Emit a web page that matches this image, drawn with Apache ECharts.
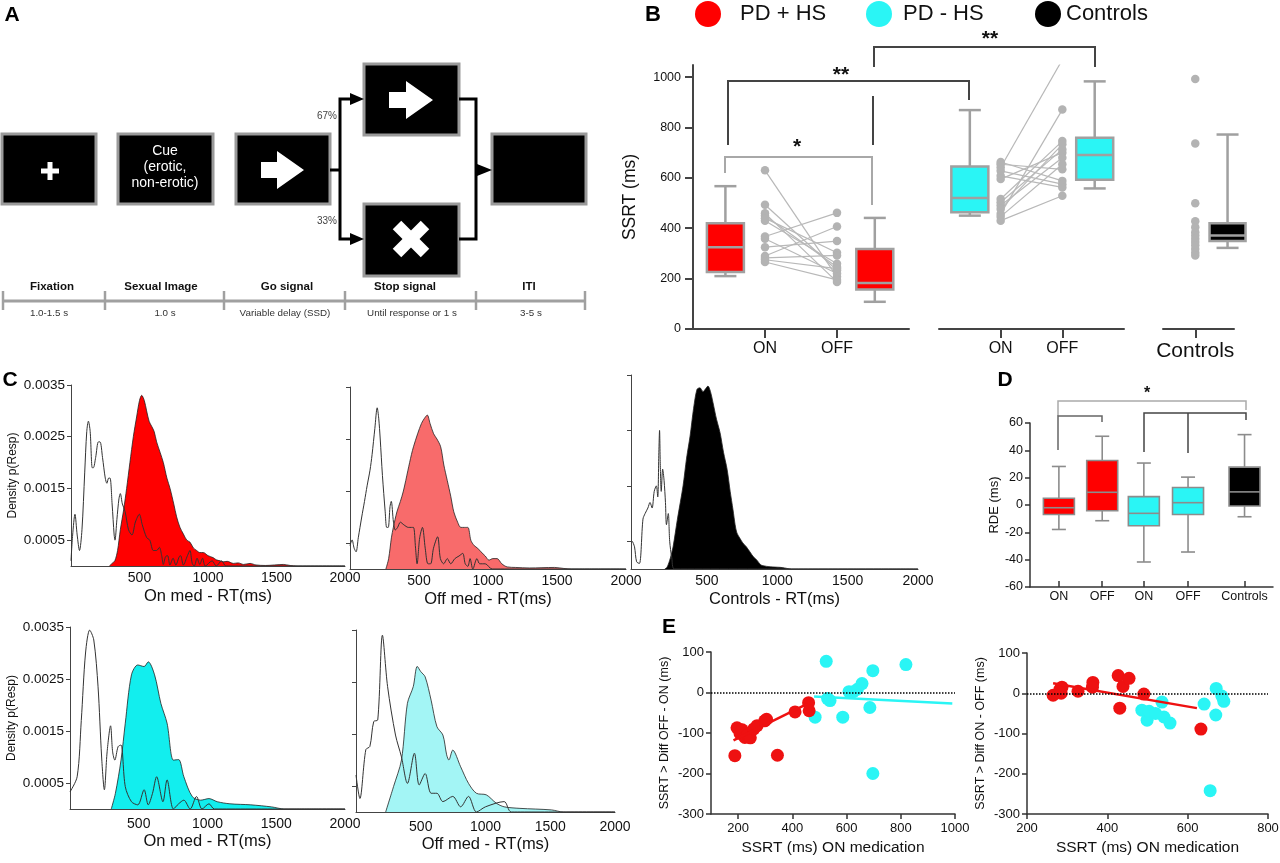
<!DOCTYPE html>
<html><head><meta charset="utf-8">
<script src="https://cdn.jsdelivr.net/npm/echarts@6/dist/echarts.min.js"></script>
<style>html,body{margin:0;padding:0;background:#fff}#c{width:1280px;height:863px}</style>
</head><body><div id="c"></div>
<script>
// ---------------- DATA ----------------
// Panel B (SSRT, ms)
const bLegend = ['PD + HS', 'PD - HS', 'Controls'];
const bTickLabels = ['ON', 'OFF'];
const bCtrlLabel = ['Controls'];
const bYTicks = [0, 200, 400, 600, 800, 1000];
const redOnBox = [210, 226, 325, 420, 567];     // low, q1, median, q3, high
const redOffBox = [108, 157, 183, 318, 441];
const cyanOnBox = [450, 463, 520, 645, 869];
const cyanOffBox = [558, 592, 691, 759, 983];
const ctrlBox = [322, 349, 371, 420, 772];
const redOnPts = [630, 493, 459, 450, 440, 430, 367, 358, 325, 290, 282, 275, 266];
const redOffPts = [207, 233, 187, 246, 303, 259, 461, 220, 349, 407, 292, 240, 195];
const cyanOnPts = [663, 654, 641, 628, 608, 595, 516, 503, 490, 476, 457, 446, 430];
const cyanOffPts = [588, 634, 1069, 575, 562, 700, 746, 713, 680, 733, 871, 654, 529];
const ctrlPts = [992, 736, 499, 428, 404, 384, 371, 358, 345, 332, 318, 303, 292];

// Panel C (RT density) [ms, density]
const cTicks = [500, 1000, 1500, 2000];
const cYTicks = [0.0005, 0.0015, 0.0025, 0.0035];
const c1Fill = [[280,0],[300,0.00005],[320,0.0001],[340,0.0003],[360,0.0007],[385,0.0011],[406,0.0015],[430,0.002],[455,0.0025],[480,0.0029],[500,0.0032],[516,0.0033],[535,0.0032],[552,0.003],[570,0.0028],[589,0.0027],[607,0.0026],[625,0.0024],[650,0.0022],[674,0.002],[700,0.0017],[723,0.0015],[750,0.0012],[771,0.00095],[795,0.00075],[820,0.00062],[845,0.0005],[869,0.00046],[893,0.00035],[917,0.0003],[940,0.00026],[966,0.00026],[1000,0.0002],[1039,0.00016],[1060,0.00012],[1088,0.0001],[1110,0.00008],[1140,0.00009],[1185,0.00005],[1220,0.00006],[1260,0.00003],[1307,0.00005],[1350,0.00002],[1420,0.00001],[1550,0.00003],[1600,0.00001],[1650,0],[2000,0]];
const c1Line = [[0,0.0001],[12,0.0006],[29,0.001],[45,0.0006],[62,0.0003],[80,0.0007],[100,0.0018],[115,0.0026],[127,0.0028],[140,0.0026],[155,0.0019],[163,0.0019],[180,0.0021],[200,0.0024],[212,0.0024],[230,0.0021],[250,0.0017],[262,0.0016],[275,0.0017],[285,0.0017],[300,0.0012],[315,0.0006],[321,0.0005],[335,0.0009],[350,0.0013],[360,0.0014],[375,0.0012],[395,0.00105],[420,0.0007],[445,0.0006],[470,0.00085],[499,0.001],[520,0.0008],[552,0.00055],[575,0.0005],[601,0.0003],[625,0.0003],[645,0.00036],[662,0.0002],[674,0.00003],[690,0.00018],[705,0.0002],[722,0.00002],[745,0.00015],[765,0.00002],[790,0.00018],[800,0.0002],[820,0.00002],[850,0.0002],[868,0.0003],[885,0.00005],[900,0],[920,0.00015],[940,0.00003],[960,0.00015],[980,0],[1030,0.0001],[1060,0],[1100,0.0001],[1130,0],[1200,0],[2000,0]];
const c2Fill = [[260,0],[280,0.0002],[300,0.0006],[314,0.0008],[340,0.0011],[365,0.0013],[387,0.0015],[420,0.0019],[445,0.0022],[460,0.00235],[490,0.0026],[518,0.0028],[540,0.0029],[560,0.00296],[580,0.0028],[606,0.0026],[630,0.0025],[657,0.00235],[680,0.002],[705,0.0017],[730,0.0014],[752,0.0011],[780,0.0009],[803,0.0008],[830,0.0008],[854,0.0008],[876,0.00055],[900,0.00045],[925,0.0004],[949,0.00033],[980,0.00025],[1007,0.00017],[1035,0.0002],[1066,0.0002],[1100,0.0001],[1139,0.00004],[1200,0.00003],[1300,0.00002],[1482,0.00003],[1550,0.00001],[1606,0],[2000,0]];
const c2Line = [[0,0.00045],[15,0.00056],[30,0.0004],[44,0.00033],[60,0.0006],[85,0.001],[105,0.0013],[124,0.0016],[145,0.0019],[160,0.0022],[180,0.0027],[197,0.0031],[208,0.0029],[219,0.0025],[235,0.0018],[255,0.0011],[266,0.0008],[277,0.0008],[290,0.0012],[299,0.0013],[315,0.0009],[328,0.00075],[345,0.0008],[365,0.0009],[390,0.00085],[423,0.0008],[445,0.0008],[460,0.0008],[475,0.0004],[486,0.0001],[505,0.0006],[525,0.0008],[545,0.0004],[565,0.0001],[584,0.0001],[605,0.0004],[635,0.00062],[655,0.0002],[679,0.0001],[705,0.0002],[730,0.0001],[760,0.0002],[790,0.00025],[817,0.0003],[835,0.0001],[854,0.00005],[870,0.0002],[890,0],[920,0.0002],[940,0.0001],[980,0.0001],[1030,0],[2000,0]];
const c3Fill = [[200,0],[216,0.00003],[240,0.0002],[259,0.0004],[290,0.0009],[330,0.0015],[355,0.002],[380,0.0024],[405,0.0029],[429,0.00324],[450,0.00327],[472,0.0032],[490,0.00325],[507,0.0033],[525,0.0032],[543,0.003],[568,0.0027],[593,0.00246],[618,0.0021],[643,0.0018],[665,0.0014],[685,0.00107],[700,0.0008],[713,0.00065],[735,0.00055],[755,0.00047],[780,0.0004],[805,0.00031],[830,0.00022],[855,0.00016],[880,0.00008],[898,0.00006],[950,0.00004],[1019,0.00003],[1050,0.00002],[1069,0.00001],[1100,0],[2000,0]];
const c3Line = [[-30,0.0005],[-15,0.0004],[0,0.00013],[20,0.0001],[45,0.0009],[60,0.001],[80,0.0011],[95,0.0012],[110,0.0011],[125,0.0014],[140,0.0015],[150,0.0013],[158,0.0021],[163,0.0025],[168,0.0019],[175,0.0014],[185,0.0018],[195,0.0016],[205,0.0012],[212,0.0008],[225,0.001],[235,0.0005],[250,0.0002],[270,0],[2000,0]];
const c4Fill = [[300,0],[330,0.0003],[371,0.00094],[402,0.00165],[447,0.00258],[493,0.00277],[539,0.00274],[569,0.00283],[615,0.00258],[661,0.00203],[706,0.00165],[752,0.00094],[790,0.00095],[828,0.00062],[889,0.00024],[950,0.00017],[1011,0.0002],[1071,0.00014],[1163,0.0001],[1315,0.00008],[1467,0.00004],[1558,0],[2000,0]];
const c4Line = [[0,0.00033],[52,0.00062],[82,0.0017],[113,0.003],[143,0.00344],[173,0.00325],[204,0.00235],[230,0.001],[250,0.00037],[270,0.0011],[295,0.0016],[310,0.0011],[326,0.00094],[350,0.0012],[371,0.00123],[402,0.00043],[447,0.00014],[493,0.00008],[539,0.00037],[569,0.00008],[600,0.0003],[630,0.00062],[676,0.00014],[706,0.00056],[752,0],[790,0.0001],[828,0.00017],[874,0],[920,0.00024],[960,0],[1011,0.0001],[1050,0],[2000,0]];
const c5Fill = [[229,0],[290,0.00049],[351,0.001],[397,0.00209],[442,0.00241],[473,0.0028],[500,0.0027],[534,0.0026],[580,0.00215],[625,0.00164],[671,0.00148],[700,0.0011],[717,0.001],[747,0.00119],[808,0.00087],[869,0.00055],[930,0.00036],[1006,0.00033],[1083,0.00017],[1144,0.0001],[1266,0.00007],[1510,0.00004],[1601,0],[2000,0]];
const c5Line = [[0,0.00071],[30,0.00026],[76,0.0012],[107,0.00126],[137,0.00174],[168,0.00177],[204,0.0034],[244,0.00241],[305,0.00148],[351,0.00106],[397,0.00055],[451,0.00113],[488,0.00052],[534,0.00074],[580,0.00036],[625,0.00036],[671,0.0002],[747,0.0003],[808,0.0001],[869,0.0003],[930,0],[1000,0.0001],[1144,0.0002],[1200,0],[2000,0]];

// Panel D (RDE, ms)
const dLabels = ['ON', 'OFF', 'ON', 'OFF', 'Controls'];
const dYTicks = [-60, -40, -20, 0, 20, 40, 60];
const dRedOn = [-17.9, -6.9, -2, 4.9, 28.2];
const dRedOff = [-11.5, -4.2, 9.3, 32.6, 50.3];
const dCyanOn = [-41.7, -15.2, -6.1, 6.1, 30.7];
const dCyanOff = [-34.4, -6.9, 1.7, 12.8, 20.4];
const dCtrl = [-8.6, -0.7, 9.6, 27.7, 51.5];

// Panel E [SSRT ON, diff]
const eXTicks = [200, 400, 600, 800, 1000];
const e1Red = [[188,-156],[196,-87],[207,-101],[215,-92],[225,-111],[235,-105],[245,-112],[258,-90],[270,-82],[298,-70],[305,-66],[345,-155],[410,-48],[460,-25],[462,-45]];
const e1Cyan = [[484,-61],[525,77],[530,-15],[539,-20],[586,-61],[609,2],[625,2],[640,8],[657,22],[686,-37],[697,54],[697,-200],[819,69]];
const e1RedFit = [[183,-118],[455,-28]];
const e1CyanFit = [[480,-10],[990,-27]];
const e2Red = [[265,-5],[282,10],[287,15],[285,0],[327,5],[364,27],[363,15],[427,44],[439,17],[454,37],[431,-37],[491,-2],[633,-89]];
const e2Cyan = [[486,-42],[499,-67],[504,-45],[536,-22],[541,-59],[556,-74],[520,-50],[641,-27],[671,12],[685,-7],[690,-20],[670,-54],[656,-242]];
const e2RedFit = [[265,25],[623,-37]];

// ---------------- LAYOUT / STYLE ----------------
const FONT = "'Liberation Sans', Arial, Helvetica, sans-serif";
const RED = '#ff0000', CYAN = '#2af5f5', BLACK = '#000000';
const bPos = {boxOn: 0.9, on: 2, off: 4, boxOff: 5.05};
const bPos2 = {boxOn: 1, on: 2, off: 4, boxOff: 5.05};
const bPos3 = {pts: 1, box: 2};
const dPos = [0.68, 1.7, 2.68, 3.72, 5.05];
const plain = v => String(v);

function boxRenderer(fill, bw, cw, stroke, lw) {
  return function (params, api) {
    const x = api.value(0);
    const p = [1, 2, 3, 4, 5].map(i => api.coord([x, api.value(i)]));
    const cx = p[0][0];
    const ls = {stroke: stroke, lineWidth: lw, fill: null};
    return {type: 'group', children: [
      {type: 'line', shape: {x1: cx, y1: p[4][1], x2: cx, y2: p[3][1]}, style: ls},
      {type: 'line', shape: {x1: cx, y1: p[0][1], x2: cx, y2: p[1][1]}, style: ls},
      {type: 'line', shape: {x1: cx - cw / 2, y1: p[4][1], x2: cx + cw / 2, y2: p[4][1]}, style: ls},
      {type: 'line', shape: {x1: cx - cw / 2, y1: p[0][1], x2: cx + cw / 2, y2: p[0][1]}, style: ls},
      {type: 'rect', shape: {x: cx - bw / 2, y: p[3][1], width: bw, height: p[1][1] - p[3][1]}, style: {fill: fill, stroke: stroke, lineWidth: lw}},
      {type: 'line', shape: {x1: cx - bw / 2, y1: p[2][1], x2: cx + bw / 2, y2: p[2][1]}, style: ls}
    ]};
  };
}

const grids = [
  {left: 693, top: 65, width: 216, height: 264},   // 0 B1
  {left: 939, top: 65, width: 185, height: 264},   // 1 B2
  {left: 1163, top: 65, width: 71, height: 264},   // 2 B3
  {left: 71, top: 385, width: 274, height: 181},   // 3 C1
  {left: 350, top: 387, width: 276, height: 182},  // 4 C2
  {left: 631, top: 375, width: 287, height: 194},  // 5 C3
  {left: 70, top: 627, width: 275, height: 182},   // 6 C4
  {left: 356, top: 630, width: 259, height: 182},  // 7 C5
  {left: 1030, top: 423, width: 243, height: 164}, // 8 D
  {left: 711, top: 652, width: 244, height: 162},  // 9 E1
  {left: 1027, top: 653, width: 241, height: 161}  // 10 E2
].map(g => Object.assign({outerBoundsMode: 'none', containLabel: false}, g));

const axLine = (c, w) => ({show: true, onZero: false, lineStyle: {color: c, width: w}});
const noSplit = {show: false};

function bX(gi, max, vals, labels, fs, margin) {
  return {gridIndex: gi, type: 'value', min: 0, max: max, axisLine: axLine('#444', 2), splitLine: noSplit,
    axisTick: {show: true, customValues: vals, length: 9, lineStyle: {color: '#444', width: 2}},
    axisLabel: {customValues: vals, formatter: v => labels[vals.indexOf(v)], fontSize: fs, color: '#111', margin: margin, fontFamily: FONT}};
}
function cX(gi, min, name, nameGap, margin) {
  return {gridIndex: gi, type: 'value', min: min, max: 2000, axisLine: axLine('#444', 1), splitLine: noSplit,
    axisTick: {show: false},
    axisLabel: {customValues: cTicks, formatter: plain, fontSize: 14, color: '#111', margin: margin, fontFamily: FONT},
    name: name, nameLocation: 'middle', nameGap: nameGap, nameTextStyle: {fontSize: 16.5, color: '#111', fontFamily: FONT}};
}
function cY(gi, showLabel) {
  const a = {gridIndex: gi, type: 'value', min: 0, max: 0.0035, axisLine: axLine('#444', 1), splitLine: noSplit,
    axisTick: {show: true, customValues: cYTicks, length: 4, lineStyle: {color: '#444', width: 1}},
    axisLabel: {show: showLabel, customValues: cYTicks, fontSize: 13.5, color: '#111', margin: 6, fontFamily: FONT, formatter: v => v.toFixed(4)}};
  if (showLabel) {
    a.name = 'Density p(Resp)'; a.nameLocation = 'middle'; a.nameGap = 52;
    a.nameTextStyle = {fontSize: 12, color: '#111', fontFamily: FONT};
  }
  return a;
}
function eX(gi, min, max) {
  const vals = eXTicks.filter(v => v >= min && v <= max);
  return {gridIndex: gi, type: 'value', min: min, max: max, axisLine: axLine('#333', 1.5), splitLine: noSplit,
    axisTick: {show: true, customValues: vals, length: 5, lineStyle: {color: '#333', width: 1.5}},
    axisLabel: {customValues: vals, formatter: plain, fontSize: 13, color: '#111', margin: 8, fontFamily: FONT},
    name: 'SSRT (ms) ON medication', nameLocation: 'middle', nameGap: 26, nameTextStyle: {fontSize: 15.5, color: '#111', fontFamily: FONT}};
}
function eY(gi, name) {
  return {gridIndex: gi, type: 'value', min: -300, max: 100, interval: 100, axisLine: axLine('#333', 1.5), splitLine: noSplit,
    axisTick: {show: true, length: 5, lineStyle: {color: '#333', width: 1.5}},
    axisLabel: {formatter: plain, fontSize: 13, color: '#111', margin: 7, fontFamily: FONT},
    name: name, nameLocation: 'middle', nameGap: 40, nameTextStyle: {fontSize: 12.5, color: '#111', fontFamily: FONT}};
}

const xAxis = [
  bX(0, 6, [bPos.on, bPos.off], bTickLabels, 16, 12),
  bX(1, 6, [bPos2.on, bPos2.off], bTickLabels, 16, 12),
  bX(2, 2.2, [bPos3.pts], bCtrlLabel, 21, 12),
  cX(3, 0, 'On med - RT(ms)', 22, 5),
  cX(4, 0, 'Off med - RT(ms)', 22, 5),
  cX(5, -40, 'Controls - RT(ms)', 22, 5),
  cX(6, 0, 'On med - RT(ms)', 24, 8),
  cX(7, 0, 'Off med - RT(ms)', 24, 8),
  {gridIndex: 8, type: 'value', min: 0, max: 5.72, axisLine: axLine('#333', 1.5), splitLine: noSplit,
    axisTick: {show: true, inside: true, customValues: dPos, length: 6, lineStyle: {color: '#333', width: 1.5}},
    axisLabel: {customValues: dPos, formatter: v => dLabels[dPos.indexOf(v)], fontSize: 12.5, color: '#111', margin: 3, fontFamily: FONT}},
  eX(9, 100, 1000),
  eX(10, 200, 800)
];
const hiddenBY = gi => ({gridIndex: gi, type: 'value', min: 0, max: 1048, show: false});
const yAxis = [
  {gridIndex: 0, type: 'value', min: 0, max: 1048, axisLine: axLine('#444', 2), splitLine: noSplit,
    axisTick: {show: true, customValues: bYTicks, length: 8, lineStyle: {color: '#444', width: 2}},
    axisLabel: {customValues: bYTicks, formatter: plain, fontSize: 12.5, color: '#111', margin: 12, fontFamily: FONT},
    name: 'SSRT (ms)', nameLocation: 'middle', nameGap: 54, nameTextStyle: {fontSize: 17.5, color: '#111', fontFamily: FONT}},
  hiddenBY(1), hiddenBY(2),
  cY(3, true), cY(4, false), cY(5, false), cY(6, true), cY(7, false),
  {gridIndex: 8, type: 'value', min: -60, max: 60, interval: 20, axisLine: axLine('#333', 1.5), splitLine: noSplit,
    axisTick: {show: true, length: 5, lineStyle: {color: '#333', width: 1.5}},
    axisLabel: {formatter: plain, fontSize: 12.5, color: '#111', margin: 7, fontFamily: FONT},
    name: 'RDE (ms)', nameLocation: 'middle', nameGap: 29, nameTextStyle: {fontSize: 13, color: '#111', fontFamily: FONT}},
  eY(9, 'SSRT > Diff OFF - ON (ms)'),
  eY(10, 'SSRT > Diff ON - OFF (ms)')
];

// ---------------- SERIES ----------------
const series = [];
const pairLines = (on, off, a, b) => on.map((v, i) => ({coords: [[a, v], [b, off[i]]]}));
function bGroup(gi, name, fill, pos, onBox, offBox, onPts, offPts) {
  series.push({type: 'lines', coordinateSystem: 'cartesian2d', xAxisIndex: gi, yAxisIndex: gi, silent: true, z: 2,
    data: pairLines(onPts, offPts, pos.on, pos.off), lineStyle: {color: '#b8b8b8', width: 1.2, opacity: 1}});
  series.push({type: 'scatter', xAxisIndex: gi, yAxisIndex: gi, silent: true, z: 3, symbolSize: 8.5,
    itemStyle: {color: '#b3b3b3', opacity: 1},
    data: onPts.map(v => [pos.on, v]).concat(offPts.map(v => [pos.off, v]))});
  series.push({type: 'custom', name: name, xAxisIndex: gi, yAxisIndex: gi, z: 4, silent: true,
    itemStyle: {color: fill}, renderItem: boxRenderer(fill, 37, 22, '#a0a0a0', 2.5),
    encode: {x: 0, y: [1, 2, 3, 4, 5]},
    data: [[pos.boxOn].concat(onBox), [pos.boxOff].concat(offBox)]});
}
bGroup(0, bLegend[0], RED, bPos, redOnBox, redOffBox, redOnPts, redOffPts);
bGroup(1, bLegend[1], CYAN, bPos2, cyanOnBox, cyanOffBox, cyanOnPts, cyanOffPts);
series.push({type: 'scatter', xAxisIndex: 2, yAxisIndex: 2, silent: true, z: 3, symbolSize: 8.5,
  itemStyle: {color: '#b3b3b3', opacity: 1}, data: ctrlPts.map(v => [bPos3.pts, v])});
series.push({type: 'custom', name: bLegend[2], xAxisIndex: 2, yAxisIndex: 2, z: 4, silent: true,
  itemStyle: {color: BLACK}, renderItem: boxRenderer(BLACK, 36, 22, '#a0a0a0', 2.5),
  encode: {x: 0, y: [1, 2, 3, 4, 5]}, data: [[bPos3.box].concat(ctrlBox)]});

function density(gi, fillData, fillColor, lineData) {
  series.push({type: 'line', xAxisIndex: gi, yAxisIndex: gi, data: fillData, smooth: 0.3, symbol: 'none', silent: true, z: 2,
    lineStyle: {color: '#222', width: 0.8}, areaStyle: {color: fillColor, opacity: 1}});
  series.push({type: 'line', xAxisIndex: gi, yAxisIndex: gi, data: lineData, smooth: 0.3, symbol: 'none', silent: true, z: 3,
    lineStyle: {color: '#333', width: 1}});
}
density(3, c1Fill, RED, c1Line);
density(4, c2Fill, '#f86b6b', c2Line);
density(5, c3Fill, BLACK, c3Line);
density(6, c4Fill, '#12eeee', c4Line);
density(7, c5Fill, '#a3f5f5', c5Line);

series.push({type: 'custom', name: 'RDE PD + HS', xAxisIndex: 8, yAxisIndex: 8, silent: true, z: 3,
  renderItem: boxRenderer(RED, 31, 14, '#8c8c8c', 1.6), encode: {x: 0, y: [1, 2, 3, 4, 5]},
  data: [[dPos[0]].concat(dRedOn), [dPos[1]].concat(dRedOff)]});
series.push({type: 'custom', name: 'RDE PD - HS', xAxisIndex: 8, yAxisIndex: 8, silent: true, z: 3,
  renderItem: boxRenderer(CYAN, 31, 14, '#8c8c8c', 1.6), encode: {x: 0, y: [1, 2, 3, 4, 5]},
  data: [[dPos[2]].concat(dCyanOn), [dPos[3]].concat(dCyanOff)]});
series.push({type: 'custom', name: 'RDE Controls', xAxisIndex: 8, yAxisIndex: 8, silent: true, z: 3,
  renderItem: boxRenderer(BLACK, 31, 14, '#8c8c8c', 1.6), encode: {x: 0, y: [1, 2, 3, 4, 5]},
  data: [[dPos[4]].concat(dCtrl)]});

function ePanel(gi, red, cyan, fits) {
  series.push({type: 'scatter', xAxisIndex: gi, yAxisIndex: gi, silent: true, z: 3, symbolSize: 13,
    itemStyle: {color: CYAN, opacity: 1}, data: cyan});
  series.push({type: 'scatter', xAxisIndex: gi, yAxisIndex: gi, silent: true, z: 3, symbolSize: 13,
    itemStyle: {color: '#ee1111', opacity: 1}, data: red});
  fits.forEach((f, i) => series.push({type: 'line', xAxisIndex: gi, yAxisIndex: gi, silent: true, z: 4, symbol: 'none',
    data: f.data, lineStyle: {color: f.color, width: 2.5},
    markLine: i === 0 ? {silent: true, symbol: 'none', label: {show: false}, data: [{yAxis: 0}],
      lineStyle: {type: 'dotted', color: '#000', width: 1.5}} : undefined}));
}
ePanel(9, e1Red, e1Cyan, [{data: e1RedFit, color: '#ee1111'}, {data: e1CyanFit, color: CYAN}]);
ePanel(10, e2Red, e2Cyan, [{data: e2RedFit, color: '#ee1111'}]);

// ---------------- GRAPHIC (schematic panel A, labels, brackets) ----------------
const G = [];
const txt = (x, y, text, fs, opt) => G.push({type: 'text', x: x, y: y, silent: true, z: 10,
  style: Object.assign({text: text, fontSize: fs, fontFamily: FONT, fill: '#111', align: 'center', verticalAlign: 'middle'}, opt || {})});
const poly = (pts, color, w) => G.push({type: 'polyline', silent: true, z: 5, shape: {points: pts}, style: {stroke: color, lineWidth: w, fill: null}});
const gon = (pts, color) => G.push({type: 'polygon', silent: true, z: 6, shape: {points: pts}, style: {fill: color}});
const rect = (x, y, w, h) => G.push({type: 'rect', silent: true, z: 5, shape: {x: x, y: y, width: w, height: h}, style: {fill: '#000', stroke: '#9a9a9a', lineWidth: 3}});

// Panel letters
txt(12, 15, 'A', 21, {fontWeight: 'bold', fill: '#000'});
txt(653, 15, 'B', 22, {fontWeight: 'bold', fill: '#000'});
txt(10, 380, 'C', 21, {fontWeight: 'bold', fill: '#000'});
txt(1005, 380, 'D', 21, {fontWeight: 'bold', fill: '#000'});
txt(669, 627, 'E', 21, {fontWeight: 'bold', fill: '#000'});

// Panel A boxes
rect(2, 134, 94, 70); rect(118, 134, 95, 70); rect(236, 134, 94, 70);
rect(364, 64, 95, 71); rect(364, 204, 95, 72); rect(492, 134, 94, 70);
// plus
poly([[41, 171], [59, 171]], '#fff', 5); poly([[50, 162], [50, 180]], '#fff', 5);
// cue text
txt(165, 151, 'Cue', 14, {fill: '#fff', fontWeight: 500});
txt(165, 167, '(erotic,', 14, {fill: '#fff', fontWeight: 500});
txt(165, 183, 'non-erotic)', 14, {fill: '#fff', fontWeight: 500});
// white arrows
gon([[261, 162], [277, 162], [277, 151], [304, 170], [277, 189], [277, 178], [261, 178]], '#fff');
gon([[389, 92], [406, 92], [406, 81], [433, 100], [406, 119], [406, 108], [389, 108]], '#fff');
// X mark
poly([[397, 225], [425, 253]], '#fff', 12); poly([[425, 225], [397, 253]], '#fff', 12);
// connectors
poly([[330, 170], [340, 170]], '#000', 3);
poly([[352, 99], [340, 99], [340, 239], [352, 239]], '#000', 3);
gon([[350, 93], [364, 99], [350, 105]], '#000');
gon([[350, 233], [364, 239], [350, 245]], '#000');
poly([[459, 99], [476, 99], [476, 239], [459, 239]], '#000', 3);
poly([[476, 170], [480, 170]], '#000', 3);
gon([[477, 164], [492, 170], [477, 176]], '#000');
txt(327, 116, '67%', 10, {fill: '#444'});
txt(327, 221, '33%', 10, {fill: '#444'});
// timeline
poly([[3, 301], [585, 301]], '#a0a0a0', 3);
[3, 105, 224, 345, 476, 585].forEach(x => poly([[x, 291], [x, 310]], '#a0a0a0', 2.5));
const tlTop = [['Fixation', 52], ['Sexual Image', 161], ['Go signal', 287], ['Stop signal', 405], ['ITI', 529]];
const tlBot = [['1.0-1.5 s', 49], ['1.0 s', 165], ['Variable delay (SSD)', 285], ['Until response or 1 s', 412], ['3-5 s', 531]];
tlTop.forEach(t => txt(t[1], 287, t[0], 11.5, {fontWeight: 'bold'}));
tlBot.forEach(t => txt(t[1], 313, t[0], 9.8, {fill: '#333'}));

// Panel B brackets
poly([[874, 67], [874, 47], [1095, 47], [1095, 67]], '#444', 2);
poly([[873, 96], [873, 145]], '#444', 2);
poly([[728, 145], [728, 81], [969, 81], [969, 100]], '#444', 2);
poly([[725, 173], [725, 157], [872, 157], [872, 205]], '#a8a8a8', 2);
txt(990, 39.5, '**', 21, {fontWeight: 'bold', fill: '#111'});
txt(841, 75.5, '**', 21, {fontWeight: 'bold', fill: '#111'});
txt(797, 147.5, '*', 21, {fontWeight: 'bold', fill: '#111'});

// Panel D brackets
poly([[1058, 416], [1058, 401], [1246, 401], [1246, 410]], '#aaaaaa', 1.5);
poly([[1058, 450], [1058, 416], [1102, 416], [1102, 422]], '#666', 1.5);
poly([[1144, 452], [1144, 413], [1246, 413], [1246, 420]], '#444', 1.5);
poly([[1188, 413], [1188, 453]], '#444', 1.5);
txt(1147, 393.5, '*', 16, {fontWeight: 'bold'});

// ---------------- CHART ----------------
const legendCommon = {icon: 'circle', itemWidth: 26, itemHeight: 26, selectedMode: false, padding: 0, top: 1, orient: 'horizontal'};
const option = {
  animation: false,
  backgroundColor: '#ffffff',
  textStyle: {fontFamily: FONT},
  legend: [
    Object.assign({left: 695, data: [{name: bLegend[0], itemStyle: {color: RED}}], textStyle: {fontSize: 22, color: '#111', fontFamily: FONT, padding: [0, 0, 0, 14]}}, legendCommon),
    Object.assign({left: 866, data: [{name: bLegend[1], itemStyle: {color: CYAN}}], textStyle: {fontSize: 22, color: '#111', fontFamily: FONT, padding: [0, 0, 0, 6]}}, legendCommon),
    Object.assign({left: 1035, data: [{name: bLegend[2], itemStyle: {color: BLACK}}], textStyle: {fontSize: 22, color: '#111', fontFamily: FONT}}, legendCommon)
  ],
  grid: grids,
  xAxis: xAxis,
  yAxis: yAxis,
  series: series,
  graphic: {elements: G}
};
const chart = echarts.init(document.getElementById('c'), null, {renderer: 'canvas', width: 1280, height: 863});
chart.setOption(option);
</script></body></html>
